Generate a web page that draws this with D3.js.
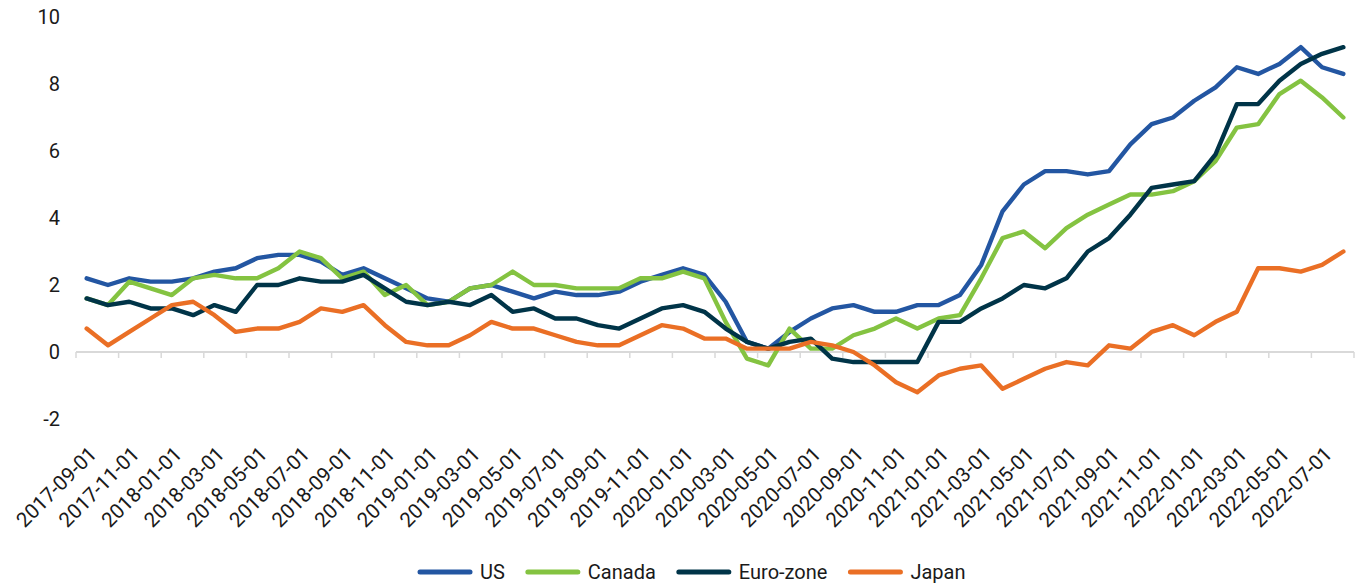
<!DOCTYPE html>
<html>
<head>
<meta charset="utf-8">
<script src="https://cdn.jsdelivr.net/npm/d3@7"></script>
<style>
  html, body { margin: 0; padding: 0; background: #ffffff; }
  svg { display: block; }
  text { font-family: Roboto, "DejaVu Sans", sans-serif; fill: #1a1a1a; }
</style>
</head>
<body>
<svg id="chart" width="1357" height="586"></svg>
<script>
// ---- Data ----
const months = [
  "2017-09-01","2017-10-01","2017-11-01","2017-12-01",
  "2018-01-01","2018-02-01","2018-03-01","2018-04-01","2018-05-01","2018-06-01",
  "2018-07-01","2018-08-01","2018-09-01","2018-10-01","2018-11-01","2018-12-01",
  "2019-01-01","2019-02-01","2019-03-01","2019-04-01","2019-05-01","2019-06-01",
  "2019-07-01","2019-08-01","2019-09-01","2019-10-01","2019-11-01","2019-12-01",
  "2020-01-01","2020-02-01","2020-03-01","2020-04-01","2020-05-01","2020-06-01",
  "2020-07-01","2020-08-01","2020-09-01","2020-10-01","2020-11-01","2020-12-01",
  "2021-01-01","2021-02-01","2021-03-01","2021-04-01","2021-05-01","2021-06-01",
  "2021-07-01","2021-08-01","2021-09-01","2021-10-01","2021-11-01","2021-12-01",
  "2022-01-01","2022-02-01","2022-03-01","2022-04-01","2022-05-01","2022-06-01",
  "2022-07-01","2022-08-01"
];
const us = [2.2,2.0,2.2,2.1, 2.1,2.2,2.4,2.5,2.8,2.9, 2.9,2.7,2.3,2.5,2.2,1.9,
  1.6,1.5,1.9,2.0,1.8,1.6, 1.8,1.7,1.7,1.8,2.1,2.3, 2.5,2.3,1.5,0.3,0.1,0.6,
  1.0,1.3,1.4,1.2,1.2,1.4, 1.4,1.7,2.6,4.2,5.0,5.4, 5.4,5.3,5.4,6.2,6.8,7.0,
  7.5,7.9,8.5,8.3,8.6,9.1, 8.5,8.3];
const canada = [1.6,1.4,2.1,1.9, 1.7,2.2,2.3,2.2,2.2,2.5, 3.0,2.8,2.2,2.4,1.7,2.0,
  1.4,1.5,1.9,2.0,2.4,2.0, 2.0,1.9,1.9,1.9,2.2,2.2, 2.4,2.2,0.9,-0.2,-0.4,0.7,
  0.1,0.1,0.5,0.7,1.0,0.7, 1.0,1.1,2.2,3.4,3.6,3.1, 3.7,4.1,4.4,4.7,4.7,4.8,
  5.1,5.7,6.7,6.8,7.7,8.1, 7.6,7.0];
const eurozone = [1.6,1.4,1.5,1.3, 1.3,1.1,1.4,1.2,2.0,2.0, 2.2,2.1,2.1,2.3,1.9,1.5,
  1.4,1.5,1.4,1.7,1.2,1.3, 1.0,1.0,0.8,0.7,1.0,1.3, 1.4,1.2,0.7,0.3,0.1,0.3,
  0.4,-0.2,-0.3,-0.3,-0.3,-0.3, 0.9,0.9,1.3,1.6,2.0,1.9, 2.2,3.0,3.4,4.1,4.9,5.0,
  5.1,5.9,7.4,7.4,8.1,8.6, 8.9,9.1];
const japan = [0.7,0.2,0.6,1.0, 1.4,1.5,1.1,0.6,0.7,0.7, 0.9,1.3,1.2,1.4,0.8,0.3,
  0.2,0.2,0.5,0.9,0.7,0.7, 0.5,0.3,0.2,0.2,0.5,0.8, 0.7,0.4,0.4,0.1,0.1,0.1,
  0.3,0.2,0.0,-0.4,-0.9,-1.2, -0.7,-0.5,-0.4,-1.1,-0.8,-0.5, -0.3,-0.4,0.2,0.1,0.6,0.8,
  0.5,0.9,1.2,2.5,2.5,2.4, 2.6,3.0];
const seriesNames = ["US","Canada","Euro-zone","Japan"];
const seriesColors = ["#2356a2","#84c341","#003448","#ea6f25"];
const yTicks = [-2,0,2,4,6,8,10];

const seriesValues = [us, canada, eurozone, japan];

// ---- Layout ----
const svg = d3.select("#chart");
const x = d3.scaleBand().domain(months).range([76, 1354]).paddingInner(0).paddingOuter(0);
const y = d3.scaleLinear().domain([-2, 10]).range([419, 17]);
const cx = d => x(d) + x.bandwidth() / 2;

// Y labels (no axis line)
const yAxis = d3.axisLeft(y).tickValues(yTicks).tickSize(0).tickPadding(0).tickFormat(d => String(d));
const yg = svg.append("g").attr("transform", "translate(60,0)").call(yAxis);
yg.select(".domain").remove();
yg.selectAll("text").style("font-size", "20px").style("font-family", "Roboto, sans-serif").attr("fill", "#1a1a1a");

// Horizontal category axis at y = 0
const tickIdx = d3.range(0, months.length + 1, 2);
const axisG = svg.append("g");
axisG.append("line")
  .attr("x1", 76).attr("x2", 1354)
  .attr("y1", y(0)).attr("y2", y(0))
  .attr("stroke", "#d9d9d9").attr("stroke-width", 2);
axisG.selectAll("line.tick").data(tickIdx).enter().append("line")
  .attr("class", "tick")
  .attr("x1", i => i < months.length ? x(months[i]) : x.range()[1])
  .attr("x2", i => i < months.length ? x(months[i]) : x.range()[1])
  .attr("y1", y(0)).attr("y2", y(0) + 6)
  .attr("stroke", "#d9d9d9").attr("stroke-width", 1.5);

// Tick labels at the bottom, rotated
const labelMonths = months.filter((d, i) => i % 2 === 0);
svg.append("g").selectAll("text").data(labelMonths).enter().append("text")
  .attr("transform", d => `translate(${cx(d) + 1},${445}) rotate(-45)`)
  .attr("text-anchor", "end")
  .attr("dy", "0.71em")
  .style("font-size", "20.5px")
  .text(d => d);

// Lines
const line = d3.line().x((v, i) => cx(months[i])).y(v => y(v));
svg.append("g").selectAll("path").data(seriesValues).enter().append("path")
  .attr("d", d => line(d))
  .attr("fill", "none")
  .attr("stroke", (d, i) => seriesColors[i])
  .attr("stroke-width", 4.4)
  .attr("stroke-linejoin", "round")
  .attr("stroke-linecap", "round");

// Legend
const lg = svg.append("g");
let lx = 418;
const ly = 572;
seriesNames.forEach((name, i) => {
  lg.append("line")
    .attr("x1", lx + 2).attr("x2", lx + 52)
    .attr("y1", ly).attr("y2", ly)
    .attr("stroke", seriesColors[i]).attr("stroke-width", 5)
    .attr("stroke-linecap", "round");
  const t = lg.append("text")
    .attr("x", lx + 62).attr("y", ly).attr("dy", "0.35em")
    .style("font-size", "20px")
    .text(name);
  lx += 62 + t.node().getComputedTextLength() + 21;
});
</script>
</body>
</html>
